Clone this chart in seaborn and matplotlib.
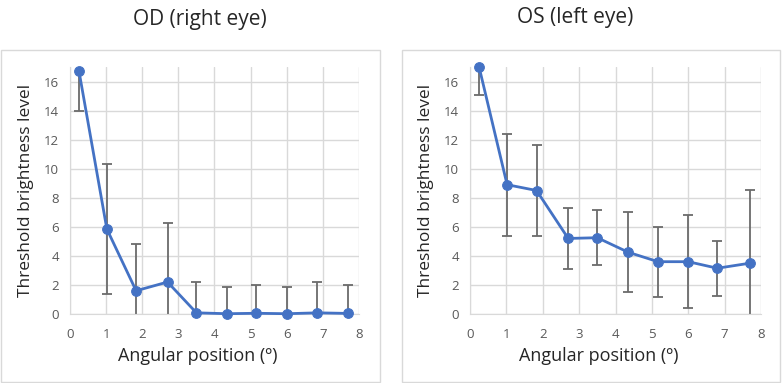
import pandas as pd
import matplotlib.pyplot as plt
import seaborn as sns
from matplotlib.patches import Rectangle

# 오른눈 (OD) : 평균 / 표준편차
od_x = [0.25, 1.02, 1.83, 2.7, 3.5, 4.35, 5.15, 6.0, 6.85, 7.7]
od_y = [16.7, 5.85, 1.6, 2.2, 0.08, 0.02, 0.05, 0.02, 0.08, 0.04]
od_sd = [2.7, 4.5, 3.2, 4.05, 2.12, 1.83, 1.95, 1.83, 2.12, 1.96]

# 왼눈 (OS)
os_x = [0.25, 1.02, 1.83, 2.7, 3.5, 4.35, 5.17, 6.0, 6.8, 7.7]
os_y = [17.0, 8.9, 8.5, 5.2, 5.25, 4.25, 3.6, 3.6, 3.15, 3.5]
os_sd = [1.9, 3.5, 3.15, 2.1, 1.9, 2.75, 2.42, 3.2, 1.9, 5.05]

titles = ['OD (right eye)', 'OS (left eye)']

sns.set_style('white')
plt.rcParams['font.family'] = ['Open Sans', 'DejaVu Sans']

blue = '#4472C4'
W, H = 782, 383
fig = plt.figure(figsize=(7.82, 3.83), dpi=100)

# 패널 테두리
for x0, x1 in [(1, 380), (402, 780)]:
    fig.patches.append(Rectangle((x0 / W, 1 - 382 / H), (x1 - x0) / W, (382 - 50) / H,
                                 transform=fig.transFigure, fill=False,
                                 edgecolor='#d9d9d9', lw=1))

panels = [(od_x, od_y, od_sd, 70, 359, 200, 20),
          (os_x, os_y, os_sd, 470, 761, 575, 17)]

for i, (x, y, sd, px0, px1, tx, ty) in enumerate(panels):
    ax = fig.add_axes([px0 / W, 1 - 314 / H, (px1 - px0) / W, (314 - 67) / H])
    df = pd.DataFrame({'x': x, 'y': y})
    ax.errorbar(x, y, yerr=sd, fmt='none', ecolor='#6b6b6b', elinewidth=1.3,
                capsize=3.5, capthick=1.3, zorder=2)
    sns.lineplot(data=df, x='x', y='y', ax=ax, color=blue, lw=2, marker='o',
                 markersize=7, markeredgecolor=blue, zorder=3, clip_on=False)
    ax.set_xlim(0, 8)
    ax.set_ylim(0, 17)
    ax.set_xticks(range(0, 9))
    ax.set_yticks(range(0, 17, 2))
    ax.grid(True, color='#d9d9d9', lw=1)
    for s in ax.spines.values():
        s.set_visible(False)
    ax.spines['left'].set_visible(True)
    ax.spines['bottom'].set_visible(True)
    ax.spines['left'].set_color('#d9d9d9')
    ax.spines['bottom'].set_color('#d9d9d9')
    ax.tick_params(axis='both', length=0, labelsize=9.5, labelcolor='#595959')
    ax.tick_params(axis='x', pad=10)
    ax.tick_params(axis='y', pad=8)
    ax.set_xlabel('Angular position (º)', fontsize=13, labelpad=6)
    ax.xaxis.set_label_coords(0.443, -0.135)
    ax.set_ylabel('Threshold brightness level', fontsize=12.5, labelpad=7)
    fig.text(tx / W, 1 - ty / H, titles[i], ha='center', va='center', fontsize=15)

plt.savefig('out.png', dpi=100)
